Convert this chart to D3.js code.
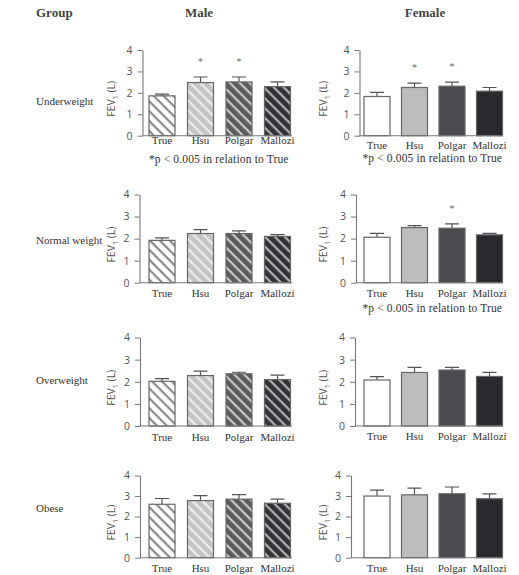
<!DOCTYPE html>
<html>
<head>
  <meta charset="utf-8">
  <script src="https://d3js.org/d3.v7.min.js"></script>
  <style>
    body { margin: 0; background: #fff; }
    svg { font-family: "Liberation Serif", serif; }
    .tick text { font-family: "Open Sans", sans-serif; font-size: 10.5px; fill: #555; }
    .domain, .tick line { stroke: #777; }
  </style>
</head>
<body>
  <svg width="519" height="575"></svg>

  <script>
    // Data (FEV1 in litres, mean and upper error)
    const categories = ["True", "Hsu", "Polgar", "Mallozi"];
    const groups = ["Underweight", "Normal weight", "Overweight", "Obese"];
    const sexes = ["Male", "Female"];
    const yTicks = [0, 1, 2, 3, 4];

    const maleMeans = [
      [1.86, 2.48, 2.51, 2.29],
      [1.92, 2.23, 2.23, 2.10],
      [2.02, 2.28, 2.36, 2.10],
      [2.60, 2.78, 2.85, 2.65]
    ];
    const maleErr = [
      [0.08, 0.26, 0.23, 0.22],
      [0.11, 0.18, 0.12, 0.08],
      [0.12, 0.20, 0.07, 0.20],
      [0.28, 0.24, 0.22, 0.20]
    ];
    const femaleMeans = [
      [1.83, 2.25, 2.31, 2.08],
      [2.06, 2.50, 2.47, 2.17],
      [2.08, 2.42, 2.53, 2.24],
      [3.00, 3.06, 3.11, 2.87]
    ];
    const femaleErr = [
      [0.19, 0.20, 0.19, 0.17],
      [0.18, 0.09, 0.20, 0.07],
      [0.15, 0.23, 0.12, 0.18],
      [0.29, 0.33, 0.33, 0.24]
    ];
    const maleStars = [[0, 1, 1, 0], [0, 0, 0, 0], [0, 0, 0, 0], [0, 0, 0, 0]];
    const femaleStars = [[0, 1, 1, 0], [0, 0, 1, 0], [0, 0, 0, 0], [0, 0, 0, 0]];
    const maleNote = [true, false, false, false];
    const femaleNote = [true, true, false, false];
    const noteText = "*p < 0.005 in relation to True";

    // Layout (pixel positions of each panel)
    const rowY = [
      { y0: 135.7, y4: 50 },
      { y0: 282.7, y4: 194.5 },
      { y0: 426, y4: 337.5 },
      { y0: 557.7, y4: 475.5 }
    ];
    const rowLabelY = [105, 244, 384, 512];
    const panelX = {
      Male:   { axisX: [142.5, 139.5, 140, 140], start: 149, step: 38.5, right: 292, labOff: [8.5, 14.5, 14.5, 14], noteOff: 27, yLabX: 115 },
      Female: { axisX: [359.5, 356, 355, 351],   start: 364, step: 37.5, right: 503, labOff: [13.3, 14.5, 13.5, 14.3], noteOff: 26.5, yLabX: 327 }
    };

    const maleFill = ["#ffffff", "#c4c4c4", "#5b5b5d", "#323236"];
    const maleStripe = ["#8a8a8a", "#ececec", "#c8c8c8", "#b0b0b0"];
    const femaleFill = ["#ffffff", "#bdbdbd", "#4b4b4f", "#2a2a2e"];

    const svg = d3.select("svg");
    const defs = svg.append("defs");

    // diagonal hatch patterns for the male panels
    maleFill.forEach((c, i) => {
      const p = defs.append("pattern")
        .attr("id", "hatch" + i)
        .attr("patternUnits", "userSpaceOnUse")
        .attr("width", 7)
        .attr("height", 7)
        .attr("patternTransform", "rotate(45)");
      p.append("rect").attr("width", 7).attr("height", 7).attr("fill", c);
      p.append("rect").attr("width", 7).attr("height", 2.2).attr("fill", maleStripe[i]);
    });

    // column headers
    svg.append("text").attr("x", 36).attr("y", 17)
      .attr("font-weight", "bold").attr("font-size", 13).attr("fill", "#444")
      .text("Group");
    svg.append("text").attr("x", 199).attr("y", 17).attr("text-anchor", "middle")
      .attr("font-weight", "bold").attr("font-size", 13).attr("fill", "#444")
      .text(sexes[0]);
    svg.append("text").attr("x", 425).attr("y", 17).attr("text-anchor", "middle")
      .attr("font-weight", "bold").attr("font-size", 13).attr("fill", "#444")
      .text(sexes[1]);

    // row labels
    svg.selectAll(".rowlab")
      .data(groups)
      .enter()
      .append("text")
      .attr("class", "rowlab")
      .attr("x", 36)
      .attr("y", (d, i) => rowLabelY[i])
      .attr("font-size", 11)
      .attr("fill", "#333")
      .text(d => d);

    function drawPanel(sex, r) {
      const px = panelX[sex];
      const means = sex === "Male" ? maleMeans[r] : femaleMeans[r];
      const errs = sex === "Male" ? maleErr[r] : femaleErr[r];
      const stars = sex === "Male" ? maleStars[r] : femaleStars[r];
      const note = sex === "Male" ? maleNote[r] : femaleNote[r];
      const ax = px.axisX[r];
      const barW = 26;
      const outer = (px.step - barW) / 2;

      const x = d3.scaleBand()
        .domain(categories)
        .range([px.start - outer, px.start - outer + px.step * categories.length])
        .paddingInner((px.step - barW) / px.step)
        .paddingOuter(outer / px.step);

      const y = d3.scaleLinear()
        .domain([0, 4])
        .range([rowY[r].y0, rowY[r].y4]);

      const g = svg.append("g");
      const data = categories.map((c, i) => ({ c, i, v: means[i], e: errs[i], s: stars[i] }));

      // error bars (upper only)
      g.selectAll(".err")
        .data(data)
        .enter()
        .append("path")
        .attr("fill", "none")
        .attr("stroke", "#555")
        .attr("stroke-width", 1.2)
        .attr("d", d => {
          const cx = x(d.c) + x.bandwidth() / 2;
          const top = y(d.v + d.e);
          return `M${cx},${y(d.v)}V${top}M${cx - 7},${top}H${cx + 7}`;
        });

      g.selectAll(".bar")
        .data(data)
        .enter()
        .append("rect")
        .attr("x", d => x(d.c))
        .attr("y", d => y(d.v))
        .attr("width", x.bandwidth())
        .attr("height", d => y(0) - y(d.v))
        .attr("fill", d => sex === "Male" ? `url(#hatch${d.i})` : femaleFill[d.i])
        .attr("stroke", "#666")
        .attr("stroke-width", 1.2);

      // significance stars
      g.selectAll(".star")
        .data(data.filter(d => d.s))
        .enter()
        .append("text")
        .attr("x", d => x(d.c) + x.bandwidth() / 2)
        .attr("y", d => y(d.v + d.e) - 12)
        .attr("text-anchor", "middle")
        .attr("font-size", 10)
        .attr("fill", "#666")
        .text("*");

      // y axis
      g.append("g")
        .attr("transform", `translate(${ax},0)`)
        .call(d3.axisLeft(y).tickValues(yTicks).tickFormat(d3.format("d")).tickSize(5).tickPadding(5).tickSizeOuter(0))
        .call(a => a.select(".domain").attr("stroke-width", 1.1));

      // x axis baseline
      g.append("line")
        .attr("x1", ax).attr("x2", px.right)
        .attr("y1", y(0)).attr("y2", y(0))
        .attr("stroke", "#777").attr("stroke-width", 1.1);

      // category labels
      g.selectAll(".cat")
        .data(categories)
        .enter()
        .append("text")
        .attr("x", d => x(d) + x.bandwidth() / 2)
        .attr("y", y(0) + px.labOff[r])
        .attr("text-anchor", "middle")
        .attr("font-size", 11)
        .attr("fill", "#333")
        .text(d => d);

      // y axis title FEV1 (L)
      const midY = (y(0) + y(4)) / 2 + 6;
      const t = g.append("text")
        .attr("transform", `translate(${px.yLabX},${midY}) rotate(-90)`)
        .attr("text-anchor", "middle")
        .attr("font-family", "'Open Sans', sans-serif")
        .attr("font-size", 10.5)
        .attr("fill", "#555");
      t.append("tspan").text("FEV");
      t.append("tspan").attr("font-size", 7).attr("dy", 3).text("1");
      t.append("tspan").attr("dy", -3).text(" (L)");

      if (note) {
        g.append("text")
          .attr("x", (x.range()[0] + x.range()[1]) / 2 - 1)
          .attr("y", y(0) + px.noteOff + (r === 0 ? 0 : 3))
          .attr("text-anchor", "middle")
          .attr("font-size", 11.5)
          .attr("letter-spacing", 0.15)
          .attr("fill", "#333")
          .text(noteText);
      }
    }

    groups.forEach((gname, r) => {
      sexes.forEach(s => drawPanel(s, r));
    });
  </script>
</body>
</html>
